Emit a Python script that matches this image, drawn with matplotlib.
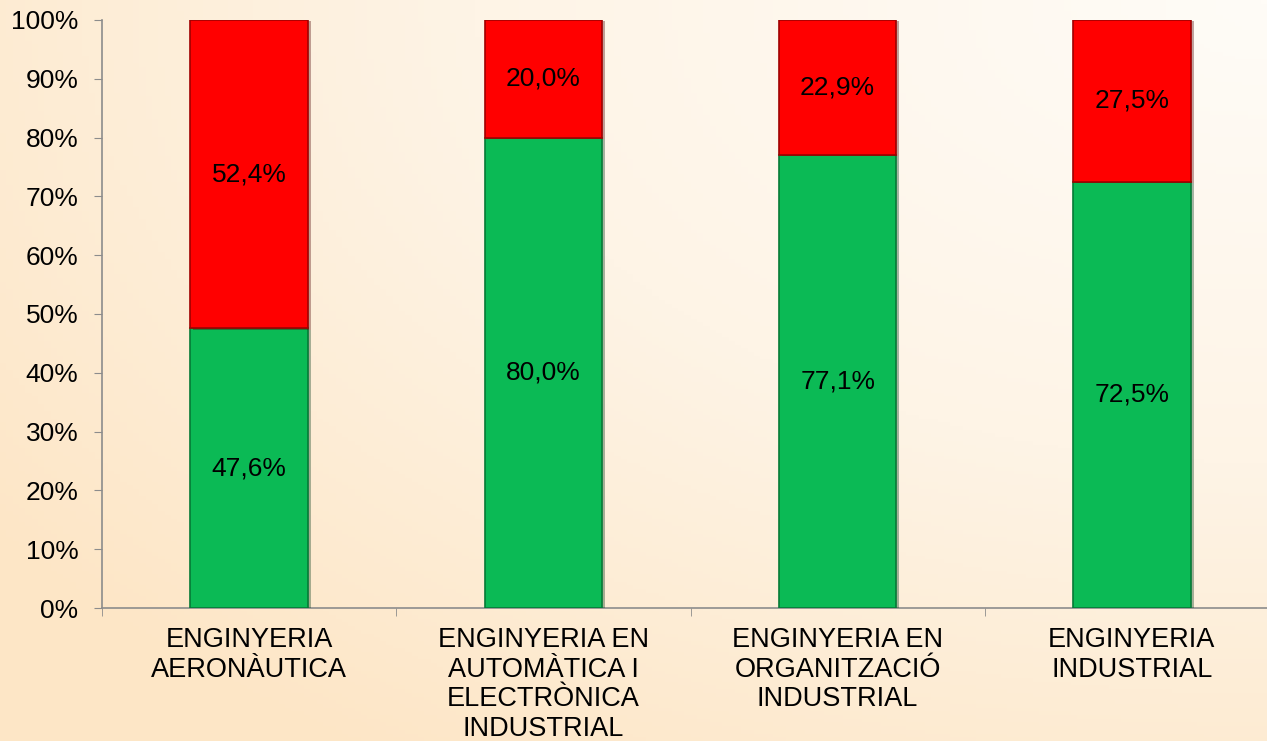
import numpy as np
import matplotlib
matplotlib.use('Agg')
import matplotlib.pyplot as plt
import matplotlib.patheffects as pe
from matplotlib.colors import LinearSegmentedColormap

# data
categories = ['ENGINYERIA\nAERONÀUTICA',
              'ENGINYERIA EN\nAUTOMÀTICA I\nELECTRÒNICA\nINDUSTRIAL',
              'ENGINYERIA EN\nORGANITZACIÓ\nINDUSTRIAL',
              'ENGINYERIA\nINDUSTRIAL']
green_vals = [47.6, 80.0, 77.1, 72.5]
red_vals = [52.4, 20.0, 22.9, 27.5]
yticks = [0, 10, 20, 30, 40, 50, 60, 70, 80, 90, 100]

GREEN, RED = '#0bba55', '#ff0000'
plt.rcParams['font.family'] = ['Liberation Sans', 'DejaVu Sans']

fig = plt.figure(figsize=(12.67, 7.41), dpi=100)

# background: soft diagonal gradient, cream top-right to peach bottom-left
bg = fig.add_axes([0, 0, 1, 1], zorder=-10)
yy, xx = np.mgrid[0:1:200j, 0:1:200j]
t = np.clip(1 - np.sqrt((1 - xx) ** 2 + (yy) ** 2) / 1.25, 0, 1)
cmap = LinearSegmentedColormap.from_list('bg', ['#fde6c6', '#fef4e6', '#fffcf7'])
bg.imshow(t, cmap=cmap, aspect='auto', origin='upper', extent=[0, 1, 0, 1])
bg.axis('off')

# axes run slightly past the right edge of the figure, as in the original
ax = fig.add_axes([102 / 1267, 133 / 741, 1177 / 1267, 588 / 741])
ax.patch.set_alpha(0)

x = np.arange(len(categories))
w = 0.40
shadow = [pe.SimplePatchShadow(offset=(2, -1), alpha=0.35), pe.Normal()]
gb = ax.bar(x, green_vals, w, color=GREEN, edgecolor='#067a36', linewidth=1.2, zorder=3)
rb = ax.bar(x, red_vals, w, bottom=green_vals, color=RED, edgecolor='#a00000',
            linewidth=1.2, zorder=3)
for b in list(gb) + list(rb):
    b.set_path_effects(shadow)

for xi, g, r in zip(x, green_vals, red_vals):
    ax.text(xi, g / 2, f'{g:.1f}%'.replace('.', ','), ha='center', va='center',
            fontsize=19, zorder=5)
    ax.text(xi, g + r / 2, f'{r:.1f}%'.replace('.', ','), ha='center', va='center',
            fontsize=19, zorder=5)

ax.set_xlim(-0.5, len(categories) - 0.5)
ax.set_ylim(0, 100)
ax.set_yticks(yticks)
ax.set_yticklabels([f'{v}%' for v in yticks], fontsize=19)
ax.set_xticks(x)
ax.set_xticklabels(categories, fontsize=19.5, linespacing=1.17)
ax.set_xticks(np.arange(len(categories) + 1) - 0.5, minor=True)
ax.tick_params(axis='x', which='major', length=0, pad=14)
ax.tick_params(axis='x', which='minor', length=6, color='#8c8c8c', direction='out')
ax.tick_params(axis='y', length=6, color='#8c8c8c', pad=11)
for s in ('top', 'right'):
    ax.spines[s].set_visible(False)
for s in ('left', 'bottom'):
    ax.spines[s].set_color('#8c8c8c')
    ax.spines[s].set_linewidth(1.2)

fig.savefig('out.png', dpi=100)
